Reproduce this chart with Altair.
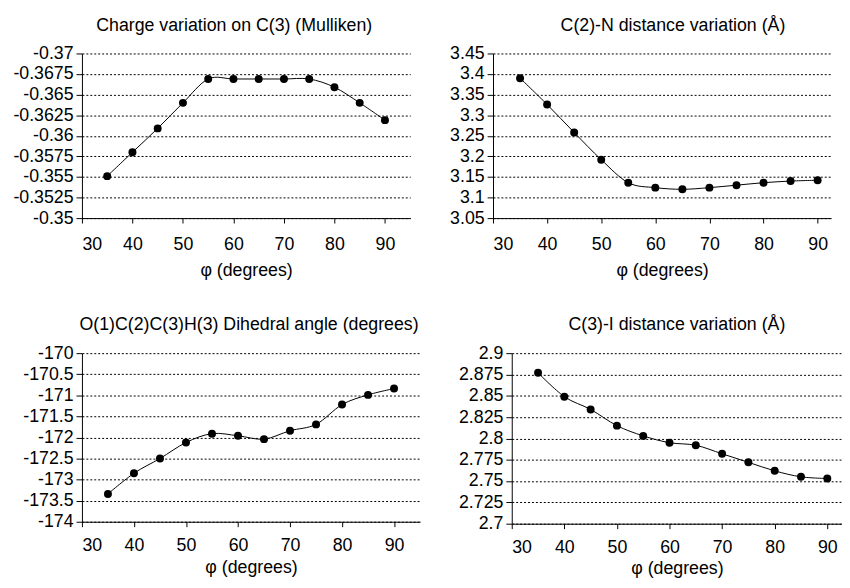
import altair as alt
import pandas as pd

phi = [35, 40, 45, 50, 55, 60, 65, 70, 75, 80, 85, 90]
charge_c3 = [-0.3551, -0.3580, -0.3609, -0.3640, -0.3669, -0.3669, -0.3669,
             -0.3669, -0.3669, -0.3659, -0.3640, -0.3619]
dist_c2n = [3.390, 3.326, 3.258, 3.192, 3.136, 3.124, 3.120, 3.124, 3.130,
            3.136, 3.140, 3.142]
dihedral = [-173.34, -172.85, -172.50, -172.12, -171.91, -171.96, -172.04,
            -171.84, -171.69, -171.22, -170.99, -170.84]
dist_c3i = [2.877, 2.849, 2.834, 2.815, 2.803, 2.795, 2.792, 2.782, 2.772,
            2.762, 2.755, 2.753]

x_ticks = [30, 40, 50, 60, 70, 80, 90]
ticks_charge = [-0.37, -0.3675, -0.365, -0.3625, -0.36, -0.3575, -0.355, -0.3525, -0.35]
ticks_c2n = [3.05, 3.1, 3.15, 3.2, 3.25, 3.3, 3.35, 3.4, 3.45]
ticks_dihedral = [-174, -173.5, -173, -172.5, -172, -171.5, -171, -170.5, -170]
ticks_c3i = [2.7, 2.725, 2.75, 2.775, 2.8, 2.825, 2.85, 2.875, 2.9]

titles = [
    "Charge variation on C(3) (Mulliken)",
    "C(2)-N distance variation (Å)",
    "O(1)C(2)C(3)H(3) Dihedral angle (degrees)",
    "C(3)-I distance variation (Å)",
]
x_title = "φ (degrees)"

FONT = "Liberation Sans"
FS = 18
label_expr = "(datum.value < 0 ? '-' : '') + format(abs(datum.value), '~g')"


def panel(values, title, yticks, reverse, width, height, xmax, dx, xlpad, xtpad):
    df = pd.DataFrame({"phi": phi, "v": values})
    xenc = alt.X(
        "phi:Q",
        scale=alt.Scale(domain=[30, xmax], nice=False, zero=False),
        axis=alt.Axis(values=x_ticks, title=x_title, grid=False, tickSize=5,
                      labelPadding=xlpad, titlePadding=xtpad, format="d",
                      labelOverlap=False),
    )
    yenc = alt.Y(
        "v:Q",
        scale=alt.Scale(domain=[min(yticks), max(yticks)], nice=False,
                        zero=False, reverse=reverse),
        axis=alt.Axis(values=yticks, title=None, grid=True, gridDash=[2, 2],
                      gridColor="black", gridWidth=1, gridOpacity=1,
                      tickSize=6, labelPadding=3, labelExpr=label_expr,
                      labelOverlap=False),
    )
    base = alt.Chart(df).encode(x=xenc, y=yenc)
    line = base.mark_line(interpolate="cardinal", color="black", strokeWidth=1)
    pts = base.mark_circle(size=65, color="black", opacity=1)
    return alt.layer(line, pts).properties(
        width=width, height=height,
        title=alt.TitleParams(title, dx=dx, fontSize=FS, font=FONT,
                              fontWeight="normal", color="black", offset=10),
    )


p1 = panel(charge_c3, titles[0], ticks_charge, True, 333, 167, 95, -12, 13, 8)
p2 = panel(dist_c2n, titles[1], ticks_c2n, False, 343, 167, 92.5, 11, 13, 8)
p3 = panel(dihedral, titles[2], ticks_dihedral, False, 343, 171, 95, -2, 10, 4)
p4 = panel(dist_c3i, titles[3], ticks_c3i, False, 335, 173, 92.8, 0, 10, 4)

row1 = alt.hconcat(p1, p2, spacing=39)
row2 = alt.hconcat(p3, p4, spacing=38)

chart = alt.vconcat(row1, row2, spacing=38).properties(
    padding={"left": 4, "top": 5, "right": 0, "bottom": 0}
).configure_view(stroke=None).configure_axis(
    domainColor="black", domainWidth=1, tickColor="black", tickWidth=1,
    labelColor="black", labelFont=FONT, labelFontSize=FS,
    titleColor="black", titleFont=FONT, titleFontSize=FS,
    titleFontWeight="normal",
)

chart.save("out.html", embed_options={"renderer": "svg", "actions": False})
